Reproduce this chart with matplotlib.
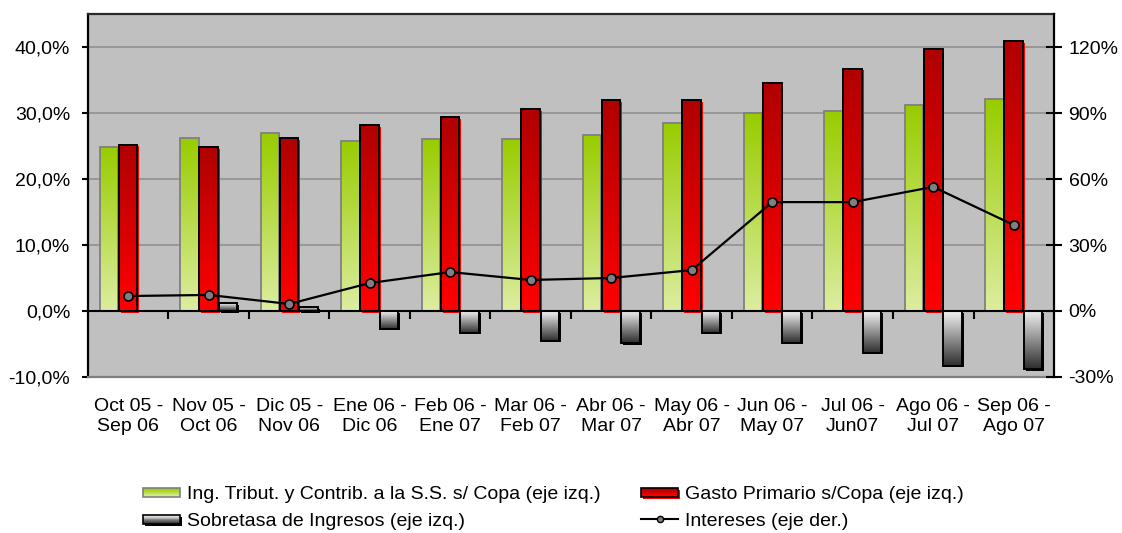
import numpy as np
import matplotlib
matplotlib.use("Agg")
import matplotlib.pyplot as plt
import matplotlib.patheffects as pe
from matplotlib.colors import to_rgb
from matplotlib.patches import Rectangle
from matplotlib.lines import Line2D
from matplotlib.legend_handler import HandlerBase
from matplotlib.ticker import FuncFormatter, MultipleLocator

plt.rcParams["font.family"] = ["Liberation Sans", "DejaVu Sans"]

# ---- data -------------------------------------------------------------
periodos = ["Oct 05 -\nSep 06", "Nov 05 -\nOct 06", "Dic 05 -\nNov 06",
            "Ene 06 -\nDic 06", "Feb 06 -\nEne 07", "Mar 06 -\nFeb 07",
            "Abr 06 -\nMar 07", "May 06 -\nAbr 07", "Jun 06 -\nMay 07",
            "Jul 06 -\nJun07", "Ago 06 -\nJul 07", "Sep 06 -\nAgo 07"]
ingresos = [24.8, 26.2, 27.0, 25.8, 26.1, 26.1, 26.7, 28.5, 30.0, 30.3, 31.2, 32.1]
gasto = [25.2, 24.8, 26.2, 28.2, 29.4, 30.6, 31.9, 31.9, 34.6, 36.7, 39.7, 40.9]
sobretasa = [0.0, 1.2, 0.6, -2.7, -3.3, -4.5, -4.9, -3.3, -4.8, -6.3, -8.3, -8.8]
intereses = [6.8, 7.3, 3.2, 12.7, 17.7, 14.1, 15.0, 18.6, 49.5, 49.5, 56.4, 39.1]

labels = ["Ing. Tribut. y Contrib. a la S.S. s/ Copa (eje izq.)",
          "Sobretasa de Ingresos (eje izq.)",
          "Gasto Primario s/Copa (eje izq.)",
          "Intereses (eje der.)"]

# gradient colours (top, bottom) for each bar series
GREEN = ("#99cc00", "#dceda0")
RED = ("#b00000", "#ff0000")
GREY = ("#f2f2f2", "#2e2e2e")


def gradient(top, bottom, n=64):
    t = np.linspace(0, 1, n)[:, None]
    c0, c1 = np.array(to_rgb(top)), np.array(to_rgb(bottom))
    return (c0 * (1 - t) + c1 * t)[:, None, :]


def gradient_bars(ax, x, values, width, colors, edge, lw, shadow=None):
    if shadow is not None:
        sh = ax.bar(x, values, width, color=shadow, zorder=2.5)
        for b in sh:
            b.set_path_effects([pe.SimplePatchShadow(offset=(1.4, -1.2),
                                                     shadow_rgbFace=shadow,
                                                     alpha=1.0)])
    outline = ax.bar(x, values, width, facecolor="none", edgecolor=edge,
                     linewidth=lw, zorder=4)
    img = gradient(*colors)
    for b in outline:
        x0, w = b.get_x(), b.get_width()
        y0, h = b.get_y(), b.get_height()
        if h == 0:
            b.set_visible(False)
            continue
        lo, hi = min(y0, y0 + h), max(y0, y0 + h)
        im = ax.imshow(img, extent=[x0, x0 + w, lo, hi], origin="upper",
                       aspect="auto", interpolation="bilinear", zorder=3)
        im.set_clip_path(b)
    return outline


fig = plt.figure(figsize=(11.22, 5.33), dpi=100)
ax = fig.add_axes([0.0784, 0.2927, 0.8610, 0.6810])
ax.set_facecolor("#c0c0c0")

x = np.arange(len(periodos))
w = 0.23
off = 0.24

gradient_bars(ax, x - off, ingresos, w, GREEN, "#808080", 1.3)
gradient_bars(ax, x, gasto, w, RED, "black", 1.4, shadow="#ff0000")
gradient_bars(ax, x + off, sobretasa, w, GREY, "black", 1.4, shadow="#000000")

ax.axhline(0, color="black", lw=1.5, zorder=5)
# category separators hanging from the zero line
ax.vlines(x[:-1] + 0.5, -1.2, 0, color="black", lw=1.5, zorder=5)

ax.set_xlim(-0.5, len(periodos) - 0.5)
ax.set_ylim(-10, 45)
ax.yaxis.set_major_locator(MultipleLocator(10))
ax.yaxis.set_major_formatter(FuncFormatter(lambda v, p: f"{v:.1f}%".replace(".", ",")))
ax.set_yticks(np.arange(-10, 41, 10))
ax.yaxis.grid(True, color="#8c8c8c", lw=1.1)
ax.set_axisbelow(True)
ax.set_xticks(x)
ax.set_xticklabels(periodos, linespacing=1.25)
ax.tick_params(axis="x", length=0, pad=15, labelsize=14)
ax.tick_params(axis="y", length=4.3, width=1.5, pad=8.5, labelsize=14, direction="out")

ax.spines["left"].set_color("black")
ax.spines["left"].set_linewidth(1.6)
ax.spines["top"].set_color("#2a2a2a")
ax.spines["top"].set_linewidth(1.6)
ax.spines["bottom"].set_color("#808080")
ax.spines["bottom"].set_linewidth(1.6)
ax.spines["right"].set_visible(False)

ax2 = ax.twinx()
ax2.set_ylim(-30, 135)
ax2.set_yticks(np.arange(-30, 121, 30))
ax2.yaxis.set_major_formatter(FuncFormatter(lambda v, p: f"{v:.0f}%"))
ax2.tick_params(axis="y", direction="inout", length=11, width=1.5, pad=5, labelsize=14)
for s in ("left", "top", "bottom"):
    ax2.spines[s].set_visible(False)
ax2.spines["right"].set_color("black")
ax2.spines["right"].set_linewidth(1.6)
ax2.plot(x, intereses, color="black", lw=1.6, marker="o", ms=6.5,
         mfc="#808080", mec="black", mew=1.2, zorder=6)


class GradientHandler(HandlerBase):
    def __init__(self, colors, edge, lw, shadow=None, steps=10):
        super().__init__()
        self.colors, self.edge, self.lw = colors, edge, lw
        self.shadow, self.steps = shadow, steps

    def create_artists(self, legend, orig_handle, xdescent, ydescent,
                       width, height, fontsize, trans):
        hh = height * 0.68
        y0 = -ydescent + (height - hh) / 2
        x0 = -xdescent
        arts = []
        if self.shadow is not None:
            arts.append(Rectangle((x0 + 1.3, y0 - 1.3), width, hh,
                                  facecolor=self.shadow, edgecolor="none",
                                  transform=trans))
        cols = gradient(*self.colors, n=self.steps)[:, 0, :]
        sh = hh / self.steps
        for i, c in enumerate(cols):
            arts.append(Rectangle((x0, y0 + hh - (i + 1) * sh), width, sh,
                                  facecolor=c, edgecolor="none", transform=trans))
        arts.append(Rectangle((x0, y0), width, hh, facecolor="none",
                              edgecolor=self.edge, lw=self.lw, transform=trans))
        return arts


h_ing, h_sob, h_gas = Rectangle((0, 0), 1, 1), Rectangle((0, 0), 1, 1), Rectangle((0, 0), 1, 1)
h_int = Line2D([], [], color="black", lw=1.5, marker="o", ms=4.5,
               mfc="#808080", mec="black")

fig.legend([h_ing, h_sob, h_gas, h_int],
           [labels[0], labels[1], labels[2], labels[3]],
           handler_map={h_ing: GradientHandler(GREEN, "#808080", 1.2),
                        h_sob: GradientHandler(GREY, "black", 1.2, shadow="black"),
                        h_gas: GradientHandler(RED, "black", 1.2, shadow="#ff0000")},
           ncol=2, loc="center left", bbox_to_anchor=(0.1275, 0.0469),
           frameon=False, fontsize=14, borderpad=0, borderaxespad=0,
           handlelength=1.9, handletextpad=0.36, columnspacing=2.1,
           labelspacing=0.48)

fig.savefig("out.png", dpi=100)
